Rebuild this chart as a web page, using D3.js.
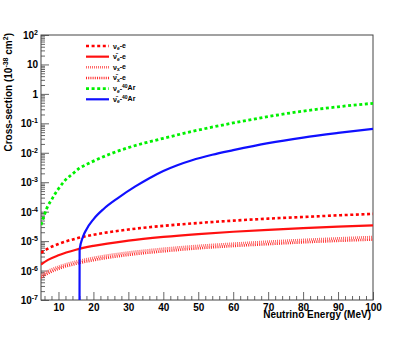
<!DOCTYPE html>
<html>
<head>
<meta charset="utf-8">
<script src="https://cdn.jsdelivr.net/npm/d3@7"></script>
<style>
  body { margin: 0; background: #fff; }
  svg text { font-family: "Liberation Sans", Arial, sans-serif; font-weight: bold; }
</style>
</head>
<body>
<script>
// energies (MeV) and cross-sections (1e-38 cm^2)
var elecE = [5, 7, 10, 15, 20, 30, 40, 50, 60, 70, 80, 90, 100];
var nueE = [4.0e-6, 5.6e-6, 8.0e-6, 1.22e-5, 1.64e-5, 2.47e-5, 3.3e-5, 4.12e-5, 4.95e-5, 5.8e-5, 6.6e-5, 7.5e-5, 8.4e-5];
var nuebarE = [1.6e-6, 2.3e-6, 3.3e-6, 5.1e-6, 6.9e-6, 1.04e-5, 1.39e-5, 1.74e-5, 2.08e-5, 2.42e-5, 2.77e-5, 3.1e-5, 3.45e-5];
var nuxE = [7.0e-7, 9.6e-7, 1.35e-6, 2.0e-6, 2.7e-6, 4.1e-6, 5.5e-6, 6.9e-6, 8.2e-6, 9.6e-6, 1.1e-5, 1.24e-5, 1.38e-5];
var nuxbarE = [5.8e-7, 8.0e-7, 1.15e-6, 1.7e-6, 2.25e-6, 3.4e-6, 4.5e-6, 5.7e-6, 6.8e-6, 7.9e-6, 9.1e-6, 1.02e-5, 1.13e-5];

var arE = [5, 6, 7, 8, 9, 10, 12, 14, 16, 18, 20, 25, 30, 35, 40, 50, 60, 70, 80, 90, 100];
var nueAr = [3.5e-5, 8e-5, 1.6e-4, 2.5e-4, 4e-4, 6e-4, 1.2e-3, 1.9e-3, 3.0e-3, 4.0e-3, 5.2e-3, 9.3e-3, 0.015, 0.022, 0.031, 0.059, 0.103, 0.17, 0.26, 0.365, 0.48];

var arBarE = [16.0, 16.05, 17, 18, 20, 23, 27, 32, 36, 40, 44, 48, 54, 60, 70, 80, 90, 100];
var nuebarAr = [1e-9, 5e-6, 1.4e-5, 2.5e-5, 5.5e-5, 1.26e-4, 2.9e-4, 7.2e-4, 1.37e-3, 2.41e-3, 3.79e-3, 5.47e-3, 8.55e-3, 0.01225, 0.0212, 0.0328, 0.0471, 0.0653];

var xMajor = [10, 20, 30, 40, 50, 60, 70, 80, 90, 100];
var yExp = [-7, -6, -5, -4, -3, -2, -1, 0, 1, 2];

var width = 415, height = 351;
var padL = 41, padR = 373, padT = 35, padB = 300;

var svg = d3.select("body").append("svg")
	.attr("width", width)
	.attr("height", height);

var x = d3.scaleLinear().domain([5, 100]).range([padL, padR]);
var y = d3.scaleLog().domain([1e-7, 1e2]).range([padB, padT]);

svg.append("clipPath").attr("id", "clip")
	.append("rect")
	.attr("x", padL).attr("y", padT)
	.attr("width", padR - padL).attr("height", padB - padT);

/* axes */
var yMajorVals = yExp.map(function(e) { return Math.pow(10, e); });
var yMinorVals = [];
yExp.slice(0, -1).forEach(function(e) {
	for (var k = 2; k <= 9; k++) yMinorVals.push(k * Math.pow(10, e));
});
var xMinorVals = d3.range(6, 100, 2).filter(function(v) { return v % 10 != 0; });

var gy = svg.append("g")
	.attr("transform", "translate(" + padL + ",0)")
	.call(d3.axisLeft(y).tickValues(yMajorVals).tickSize(-8).tickPadding(3)
		.tickFormat(function(d) { return d; }));
svg.append("g")
	.attr("transform", "translate(" + padL + ",0)")
	.call(d3.axisLeft(y).tickValues(yMinorVals).tickSize(-4).tickFormat(""));

var gx = svg.append("g")
	.attr("transform", "translate(0," + padB + ")")
	.call(d3.axisBottom(x).tickValues(xMajor).tickSize(-8).tickPadding(4));
svg.append("g")
	.attr("transform", "translate(0," + padB + ")")
	.call(d3.axisBottom(x).tickValues(xMinorVals).tickSize(-4).tickFormat(""));

svg.selectAll(".domain").remove();
svg.selectAll(".tick line").attr("stroke", "#666");

gx.selectAll(".tick text").attr("font-size", 10).attr("fill", "#000");

// log labels with superscripts
gy.selectAll(".tick text").each(function(d) {
	var t = d3.select(this).text("").attr("font-size", 10).attr("fill", "#000").attr("dy", "0.35em");
	var e = Math.round(Math.log10(d));
	if (e == 0) { t.text("1"); return; }
	if (e == 1) { t.text("10"); return; }
	t.append("tspan").text("10");
	t.append("tspan").attr("font-size", 7).attr("dy", "-0.55em").text(e);
});

/* frame */
svg.append("rect")
	.attr("x", padL).attr("y", padT)
	.attr("width", padR - padL).attr("height", padB - padT)
	.attr("fill", "none").attr("stroke", "#444").attr("stroke-width", 1);

/* titles */
svg.append("text")
	.attr("x", padR - 2).attr("y", 318)
	.attr("text-anchor", "end").attr("font-size", 10)
	.text("Neutrino Energy (MeV)");

var yt = svg.append("text")
	.attr("transform", "translate(12,33) rotate(-90)")
	.attr("text-anchor", "end").attr("font-size", 10);
yt.append("tspan").text("Cross-section (10");
yt.append("tspan").attr("font-size", 7).attr("dy", "-0.6em").text("-38");
yt.append("tspan").attr("dy", "0.42em").text(" cm");
yt.append("tspan").attr("font-size", 7).attr("dy", "-0.6em").text("2");
yt.append("tspan").attr("dy", "0.42em").text(")");

/* curves */
var series = [
	{ E: elecE, v: nueE, color: "#ff0000", width: 2.6, dash: "3,2.6", nu: "\u03bd", sub: "e", tail: "-e" },
	{ E: elecE, v: nuebarE, color: "#ff1010", width: 2.2, dash: null, nu: "\u03bd\u0304", sub: "e", tail: "-e" },
	{ E: elecE, v: nuxE, color: "#ff6a6a", width: 2.6, dash: "1,1", nu: "\u03bd", sub: "x", tail: "-e" },
	{ E: elecE, v: nuxbarE, color: "#ff2a2a", width: 2.6, dash: "1,1.2", nu: "\u03bd\u0304", sub: "x", tail: "-e" },
	{ E: arE, v: nueAr, color: "#00f000", width: 2.8, dash: "3,2.6", nu: "\u03bd", sub: "e", tail: "-", ar: true },
	{ E: arBarE, v: nuebarAr, color: "#1010ff", width: 2.2, dash: null, nu: "\u03bd\u0304", sub: "e", tail: "-", ar: true }
];

var line = d3.line()
	.x(function(d) { return x(d[0]); })
	.y(function(d) { return y(d[1]); })
	.curve(d3.curveMonotoneX);

var plot = svg.append("g").attr("clip-path", "url(#clip)");
series.forEach(function(s) {
	plot.append("path")
		.datum(d3.zip(s.E, s.v))
		.attr("d", line)
		.attr("fill", "none")
		.attr("stroke", s.color)
		.attr("stroke-width", s.width)
		.attr("stroke-dasharray", s.dash);
});

/* legend */
var legY = d3.scaleLinear().domain([0, 5]).range([46, 99.3]);
var leg = svg.append("g");
series.forEach(function(s, i) {
	var ly = legY(i);
	leg.append("line")
		.attr("x1", 86).attr("x2", 109)
		.attr("y1", ly).attr("y2", ly)
		.attr("stroke", s.color)
		.attr("stroke-width", s.width)
		.attr("stroke-dasharray", s.dash);
	var t = leg.append("text")
		.attr("x", 113).attr("y", ly + 2.5)
		.attr("font-size", 7);
	t.append("tspan").text(s.nu);
	t.append("tspan").attr("font-size", 5).attr("dy", "0.3em").text(s.sub);
	t.append("tspan").attr("dy", "-0.3em").text(s.tail);
	if (s.ar) {
		t.append("tspan").attr("font-size", 5).attr("dy", "-0.5em").text("40");
		t.append("tspan").attr("dy", "0.35em").text("Ar");
	}
});
</script>
</body>
</html>
